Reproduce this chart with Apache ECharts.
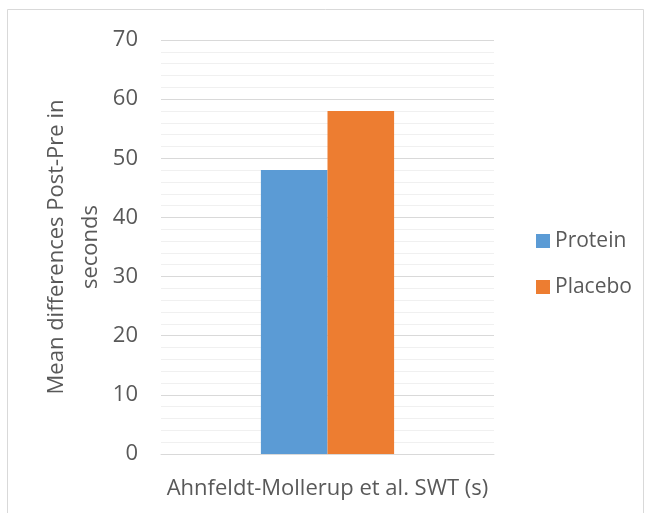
<!DOCTYPE html>
<html>
<head>
<meta charset="utf-8">
<script src="https://cdn.jsdelivr.net/npm/echarts@6/dist/echarts.min.js"></script>
<style>
  html, body { margin: 0; padding: 0; background: #fff; }
  #chart { width: 650px; height: 513px; }
</style>
</head>
<body>
<div id="chart"></div>
<script>
// Swim-wall test: mean post-minus-pre change per group
const categories = ['Ahnfeldt-Mollerup et al. SWT (s)'];
const proteinValues = [48];
const placeboValues = [58];
const seriesNames = ['Protein', 'Placebo'];
const yAxisTitle = 'Mean differences Post-Pre in\nseconds';

const FONT = '"Open Sans", "DejaVu Sans", sans-serif';
const TEXT = '#595959';

const chart = echarts.init(document.getElementById('chart'));
chart.setOption({
  animation: false,
  backgroundColor: '#fff',
  graphic: [{
    type: 'rect',
    shape: { x: 7.5, y: 9.5, width: 636, height: 510 },
    style: { fill: 'none', stroke: '#d9d9d9', lineWidth: 1 },
    silent: true
  }],
  grid: { left: 161, right: 156, top: 40, bottom: 59, containLabel: false },
  legend: {
    orient: 'vertical',
    left: 531,
    top: 224,
    itemWidth: 14,
    itemHeight: 14,
    itemGap: 22,
    icon: 'rect',
    textStyle: { color: TEXT, fontFamily: FONT, fontSize: 21, lineHeight: 24 },
    data: seriesNames
  },
  xAxis: {
    type: 'category',
    data: categories,
    axisTick: { show: false },
    axisLine: { lineStyle: { color: '#d9d9d9', width: 1 } },
    axisLabel: { color: TEXT, fontFamily: FONT, fontSize: 22, margin: 24 }
  },
  yAxis: {
    type: 'value',
    min: 0,
    max: 70,
    interval: 10,
    name: yAxisTitle,
    nameLocation: 'middle',
    nameGap: 53,
    nameMoveOverlap: false,
    nameRotate: 90,
    nameTextStyle: { color: TEXT, fontFamily: FONT, fontSize: 22, lineHeight: 34 },
    axisLine: { show: false },
    axisTick: { show: false },
    axisLabel: { color: TEXT, fontFamily: FONT, fontSize: 22, margin: 23 },
    splitLine: { lineStyle: { color: '#d9d9d9', width: 1 } },
    minorTick: { show: false, splitNumber: 5 },
    minorSplitLine: { show: true, lineStyle: { color: '#f0f0f0', width: 1 } }
  },
  series: [
    {
      name: seriesNames[0],
      type: 'bar',
      data: proteinValues,
      itemStyle: { color: '#5b9bd5' },
      barGap: '0%',
      barCategoryGap: '60%'
    },
    {
      name: seriesNames[1],
      type: 'bar',
      data: placeboValues,
      itemStyle: { color: '#ed7d31' },
      barGap: '0%',
      barCategoryGap: '60%'
    }
  ]
});
</script>
</body>
</html>
